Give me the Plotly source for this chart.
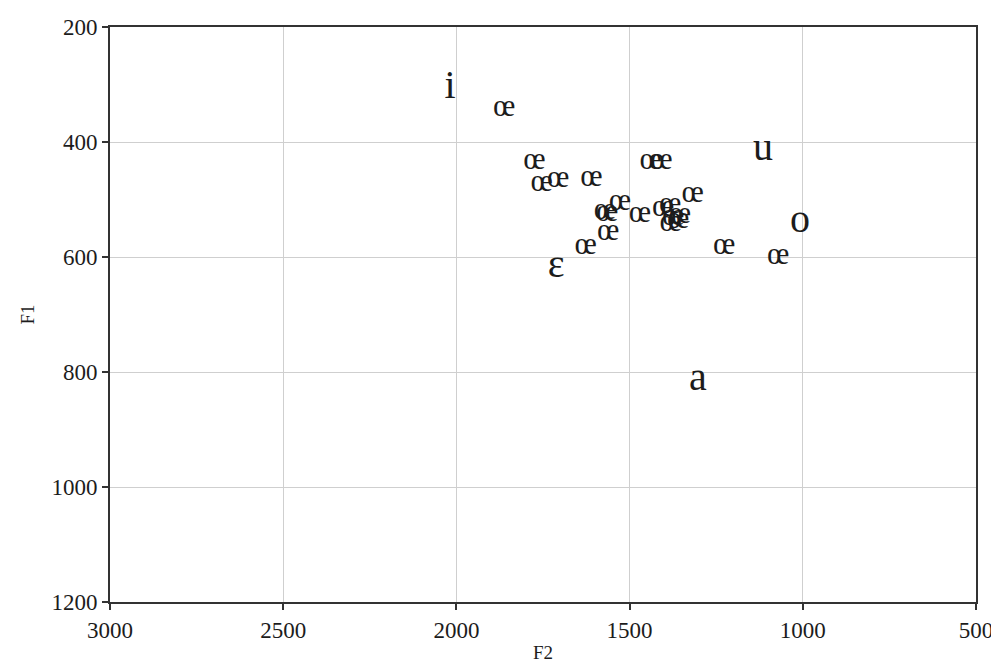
import plotly.graph_objects as go

# Reference vowels (label, F2, F1)
ref_labels = ["i", "u", "o", "a", "ε"]
ref_f2 = [2018, 1115, 1008, 1303, 1712]
ref_f1 = [306, 414, 539, 814, 617]

# œ tokens
oe_f2 = [1862, 1775, 1754, 1706, 1610, 1439, 1408, 1571, 1565, 1528, 1470,
         1403, 1383, 1318, 1374, 1381, 1360, 1355, 1562, 1627, 1227, 1071]
oe_f1 = [341, 434, 471, 465, 463, 434, 434, 521, 524, 504, 525,
         515, 510, 490, 530, 541, 536, 527, 557, 582, 582, 599]

x_ticks = [3000, 2500, 2000, 1500, 1000, 500]
y_ticks = [200, 400, 600, 800, 1000, 1200]

SERIF = "Liberation Serif, Times New Roman, serif"
INK = "#1c1c1c"

fig = go.Figure()
fig.add_trace(go.Scatter(
    x=oe_f2, y=oe_f1, mode="text", text=["œ"] * len(oe_f2),
    textposition="middle center",
    textfont=dict(family=SERIF, size=31, color=INK),
    hoverinfo="skip", showlegend=False,
))
fig.add_trace(go.Scatter(
    x=ref_f2, y=ref_f1, mode="text", text=ref_labels,
    textposition="middle center",
    textfont=dict(family=SERIF, size=40, color=INK),
    hoverinfo="skip", showlegend=False,
))

axis_common = dict(
    showline=True, linecolor="#333333", linewidth=2, mirror=True,
    ticks="outside", ticklen=6, tickcolor="#333333", tickwidth=1.5,
    showgrid=True, gridcolor="#cfcfcf", gridwidth=1, zeroline=False,
    tickfont=dict(family=SERIF, size=23, color=INK),
    title_font=dict(family=SERIF, size=19, color=INK),
    automargin=False, ticklabeloverflow="allow",
)

fig.update_layout(
    width=991, height=658,
    margin=dict(l=102, r=23, t=19, b=64),
    paper_bgcolor="white", plot_bgcolor="white",
    xaxis=dict(range=[3000, 500], tickvals=x_ticks, title=dict(text="F2", standoff=4), **axis_common),
    yaxis=dict(range=[1200, 200], tickvals=y_ticks, title=dict(text="F1", standoff=12), **axis_common),
)

fig.write_html("out.html")
